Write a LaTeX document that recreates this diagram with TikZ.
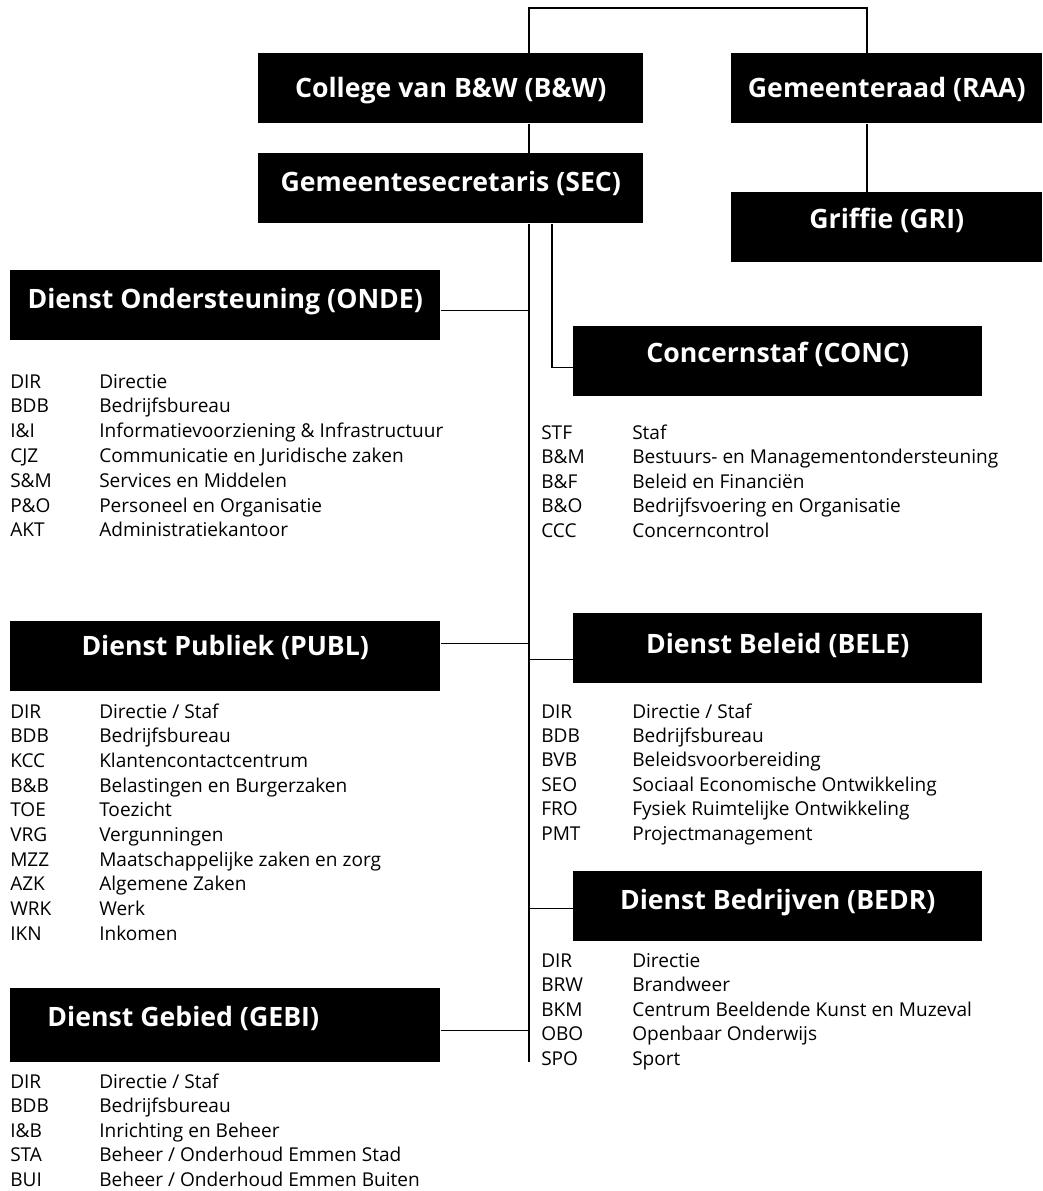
\documentclass[tikz,border=0pt]{standalone}
\usepackage{fontspec}
\setmainfont{Open Sans}
\usetikzlibrary{positioning}

\newcommand{\lijstfont}{\fontsize{14.3}{17}\selectfont}
\newcommand{\kopfont}{\fontsize{20}{24}\selectfont\bfseries}

\begin{document}
\begin{tikzpicture}[x=0.75pt, y=-0.75pt,
  lijn/.style={line width=1pt},
  dienst/.style={fill=black, text=white, font=\kopfont, inner sep=0pt, anchor=north west,
    minimum height=52.5pt, text height=28.5pt, text depth=24pt},
  afk/.style={anchor=base west, font=\lijstfont, inner sep=0pt}]
\useasboundingbox (0,0) rectangle (1042,1191);

% bestuur
\node [dienst, minimum width=288.75pt, text height=33pt, text depth=19.5pt] (bw) at (258,53) {College van B\&W (B\&W)};
\node [dienst, minimum width=233.25pt, text height=33pt, text depth=19.5pt] (raa) at (731,53) {Gemeenteraad (RAA)};
\node [dienst, minimum width=288.75pt] (sec) at (258,153) {Gemeentesecretaris (SEC)};
\node [dienst, minimum width=233.25pt, text height=26.5pt, text depth=25pt] (gri) at (731,192) {Griffie (GRI)};

% diensten
\node [dienst, minimum width=322.5pt] (onde) at (10,270) {Dienst Ondersteuning (ONDE)};
\node [dienst, minimum width=306.75pt, text height=27.5pt, text depth=25pt] (conc) at (573,326) {Concernstaf (CONC)};
\node [dienst, minimum width=322.5pt, text height=26pt, text depth=26.5pt] (publ) at (10,621) {Dienst Publiek (PUBL)};
\node [dienst, minimum width=306.75pt, text height=30pt, text depth=22.5pt] (bele) at (573,613) {Dienst Beleid (BELE)};
\node [dienst, minimum width=306.75pt] (bedr) at (573,871) {Dienst Bedrijven (BEDR)};
\node [dienst, minimum width=322.5pt, text height=28.5pt, text depth=27pt] (gebi) at (10,988) {Dienst Gebied (GEBI)\hspace*{63pt}};

% lijnen
\coordinate (top-l) at (529,8);
\coordinate (top-r) at (867,8);
\coordinate (tak) at (552,8);
\coordinate (stam-end) at (529,1062);
\draw [lijn] (top-l |- bw.north) -- (top-l) -- (top-r) -- (top-r |- raa.north);
\draw [line width=1.6pt] (top-l) -- (top-r);
\draw [lijn] (top-l |- bw.south) -- (top-l |- sec.north);
\draw [lijn] (top-r |- raa.south) -- (top-r |- gri.north);
\draw [lijn] (top-l |- sec.south) -- (stam-end);
\draw [lijn] (tak |- sec.south) |- ([yshift=-4.5pt]conc.west);
\draw [lijn] ([yshift=-3.75pt]onde.east) coordinate (o) -- (o -| top-l);
\draw [lijn] ([yshift=9.75pt]publ.east) coordinate (p) -- (p -| top-l);
\draw [lijn] ([yshift=-8.25pt]bele.west) coordinate (b) -- (b -| top-l);
\draw [lijn] ([yshift=-1.5pt]bedr.west) coordinate (d) -- (d -| top-l);
\draw [lijn] ([yshift=-3.75pt]gebi.east) coordinate (g) -- (g -| top-l);

% afdelingen
\foreach \afk/\oms [count=\i from 0] in {DIR/Directie, BDB/Bedrijfsbureau,
    I\&I/Informatievoorziening \& Infrastructuur, CJZ/Communicatie en Juridische zaken,
    S\&M/Services en Middelen, P\&O/Personeel en Organisatie, AKT/Administratiekantoor} {
  \node [afk] (onde-a\i) at (10,{388+24.8*\i}) {\afk};
  \node [afk] (onde-o\i) at (99,{388+24.8*\i}) {\oms};
}
\foreach \afk/\oms [count=\i from 0] in {STF/Staf, B\&M/Bestuurs- en Managementondersteuning,
    B\&F/Beleid en Financiën, B\&O/Bedrijfsvoering en Organisatie, CCC/Concerncontrol} {
  \node [afk] (conc-a\i) at (541,{439+24.5*\i}) {\afk};
  \node [afk] (conc-o\i) at (632,{439+24.5*\i}) {\oms};
}
\foreach \afk/\oms [count=\i from 0] in {DIR/{Directie / Staf}, BDB/Bedrijfsbureau,
    KCC/Klantencontactcentrum, B\&B/Belastingen en Burgerzaken, TOE/Toezicht,
    VRG/Vergunningen, MZZ/Maatschappelijke zaken en zorg, AZK/Algemene Zaken,
    WRK/Werk, IKN/Inkomen} {
  \node [afk] (publ-a\i) at (10,{718+24.7*\i}) {\afk};
  \node [afk] (publ-o\i) at (99,{718+24.7*\i}) {\oms};
}
\foreach \afk/\oms [count=\i from 0] in {DIR/{Directie / Staf}, BDB/Bedrijfsbureau,
    BVB/Beleidsvoorbereiding, SEO/Sociaal Economische Ontwikkeling,
    FRO/Fysiek Ruimtelijke Ontwikkeling, PMT/Projectmanagement} {
  \node [afk] (bele-a\i) at (541,{718+24.4*\i}) {\afk};
  \node [afk] (bele-o\i) at (632,{718+24.4*\i}) {\oms};
}
\foreach \afk/\oms [count=\i from 0] in {DIR/Directie, BRW/Brandweer,
    BKM/Centrum Beeldende Kunst en Muzeval, OBO/Openbaar Onderwijs, SPO/Sport} {
  \node [afk] (bedr-a\i) at (541,{967+24.5*\i}) {\afk};
  \node [afk] (bedr-o\i) at (632,{967+24.5*\i}) {\oms};
}
\foreach \afk/\oms [count=\i from 0] in {DIR/{Directie / Staf}, BDB/Bedrijfsbureau,
    I\&B/Inrichting en Beheer, STA/{Beheer / Onderhoud Emmen Stad},
    BUI/{Beheer / Onderhoud Emmen Buiten}} {
  \node [afk] (gebi-a\i) at (10,{1088+24.5*\i}) {\afk};
  \node [afk] (gebi-o\i) at (99,{1088+24.5*\i}) {\oms};
}
\end{tikzpicture}
\end{document}
